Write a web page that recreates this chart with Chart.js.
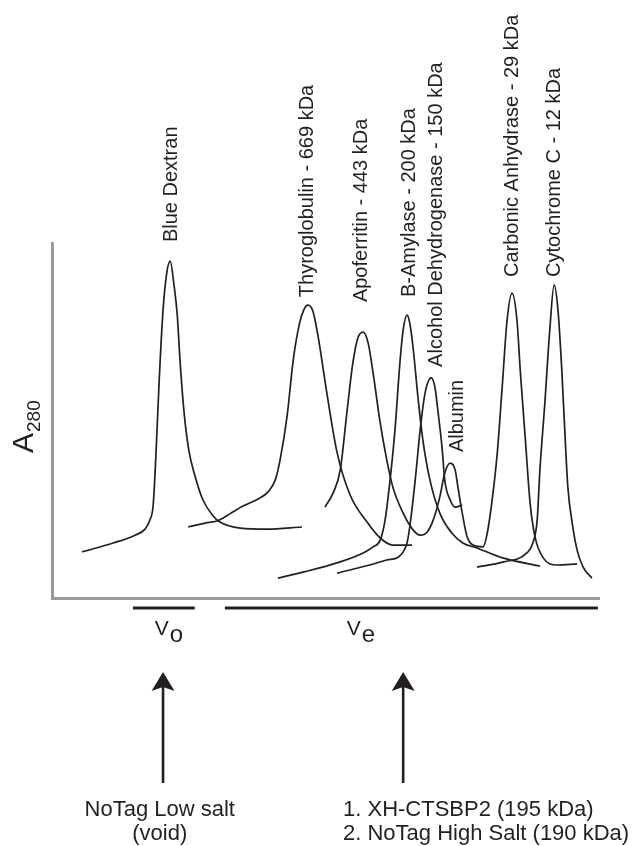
<!DOCTYPE html>
<html><head><meta charset="utf-8">
<script src="https://cdn.jsdelivr.net/npm/chart.js@4/dist/chart.umd.min.js"></script>
<style>html,body{margin:0;padding:0;background:#fff}#wrap{position:relative;width:634px;height:846px}</style>
</head><body><div id="wrap"><canvas id="c"></canvas></div>
<script>
// Elution traces: [elution position (0-100), A280 (0-100)]
const blueDextran = [[5.5,13.0],[11.2,15.5],[15.2,17.7],[17.0,19.4],[17.9,22.0],[18.5,26.2],[19.0,40.3],[19.6,61.4],[20.3,81.1],[21.0,91.8],[21.6,94.9],[22.3,88.2],[22.9,79.7],[23.4,67.0],[24.1,53.0],[25.0,41.7],[26.1,34.6],[27.6,27.6],[29.3,23.4],[30.7,21.4],[34.4,19.7],[39.3,19.4],[45.7,20.0]];
const thyroglobulin = [[24.9,20.0],[28.0,21.1],[30.2,21.7],[32.5,23.7],[34.9,25.9],[37.7,27.9],[39.5,29.9],[40.8,33.2],[41.7,38.9],[43.0,51.5],[44.1,67.0],[45.3,77.7],[46.1,81.4],[46.8,82.5],[47.7,80.8],[48.6,74.1],[50.3,57.2],[52.1,41.1],[54.5,29.0],[57.6,21.4],[60.0,16.9],[62.3,14.9],[65.8,14.9]];
const apoferritinAlbuminCA = [[49.9,25.6],[51.4,29.6],[52.7,36.1],[53.9,52.1],[55.0,66.2],[55.9,73.2],[56.9,74.9],[57.8,71.8],[58.7,63.4],[60.0,49.3],[61.2,38.9],[62.3,31.3],[64.2,23.9],[66.0,19.2],[67.3,17.7],[68.6,18.6],[69.7,22.0],[70.9,28.5],[71.8,35.2],[72.8,38.0],[73.7,36.1],[74.2,31.3],[75.0,23.9],[75.9,17.2],[77.0,14.9],[78.8,14.4],[79.5,17.7],[80.4,26.8],[81.4,40.8],[82.3,59.4],[83.2,78.3],[84.1,85.9],[85.0,78.3],[85.6,64.2],[86.5,45.4],[87.4,26.8],[88.3,17.2],[89.8,11.3],[92.3,9.3],[96.0,9.6]];
const betaAmylase = [[41.3,5.6],[45.9,7.3],[52.1,9.9],[56.9,12.7],[58.7,14.4],[60.0,16.3],[60.9,22.0],[61.8,33.2],[62.7,47.3],[63.6,66.2],[64.2,75.5],[64.9,79.7],[65.4,77.5],[66.0,70.7],[66.9,56.6],[67.8,44.5],[69.1,33.2],[70.9,23.9],[73.1,18.3],[75.1,15.5],[77.7,14.1],[82.4,11.3],[89.2,9.0]];
const alcoholDehydrogenase = [[52.1,7.0],[58.1,9.3],[61.2,10.7],[63.3,11.5],[64.2,13.0],[64.9,15.5],[65.4,20.0],[66.4,33.2],[67.3,47.3],[68.2,57.7],[69.3,62.0],[70.0,59.4],[70.6,52.1],[71.3,42.5],[71.8,33.2],[72.8,27.6],[73.7,25.6],[75.0,26.2]];
const cytochromeC = [[77.7,8.7],[82.4,10.1],[86.8,12.7],[87.9,15.5],[88.7,22.0],[89.2,36.1],[90.1,54.9],[91.0,75.5],[91.8,88.2],[92.5,81.1],[93.2,64.2],[93.8,45.4],[94.3,31.3],[95.1,21.1],[96.0,13.5],[97.1,8.7],[98.7,5.6]];

const traceNames = ['Blue Dextran','Thyroglobulin','Apoferritin / Albumin / Carbonic Anhydrase','B-Amylase','Alcohol Dehydrogenase','Cytochrome C'];
const traces = [blueDextran, thyroglobulin, apoferritinAlbuminCA, betaAmylase, alcoholDehydrogenase, cytochromeC];

// peak labels and the [trace, point] they belong to
const peakLabels = ['Blue Dextran','Thyroglobulin - 669 kDa','Apoferritin - 443 kDa','B-Amylase - 200 kDa','Alcohol Dehydrogenase - 150 kDa','Albumin','Carbonic Anhydrase - 29 kDa','Cytochrome C - 12 kDa'];
const peakAnchors = [[0,10],[1,13],[2,6],[3,11],[4,10],[2,19],[2,31],[5,8]];

// volume ranges on the elution axis
const voidRange = [14.8, 26.1];
const elutionRange = [31.6, 99.8];
const arrowPositions = [20.3, 64.2];
const yTitle = ['A', '280'];
const rangeLabels = [['V','o'],['V','e']];
const voidNote = ['NoTag Low salt', '(void)'];
const elutionNote = ['1. XH-CTSBP2 (195 kDa)', '2. NoTag High Salt (190 kDa)'];

const INK = '#231f20';
const AXIS = '#9a9a9a';
const FONT = '"Liberation Sans", Arial, sans-serif';

const labelOffsets = [[7,-19],[5,-8],[4,-30],[8,-18],[11,-11],[13,-11],[6,-16],[6,-8]];

const annot = {
  id: 'annot',
  afterDraw(chart) {
    const {ctx, chartArea: ca, scales: {x}} = chart;
    ctx.save();
    ctx.fillStyle = INK; ctx.strokeStyle = INK;
    ctx.textBaseline = 'alphabetic';
    // peak labels (rotated)
    ctx.font = '20px ' + FONT; ctx.textAlign = 'left';
    peakLabels.forEach((t, i) => {
      const [d, p] = peakAnchors[i];
      const pt = chart.getDatasetMeta(d).data[p];
      const [dx, dy] = labelOffsets[i];
      ctx.save(); ctx.translate(pt.x + dx, pt.y + dy); ctx.rotate(-Math.PI / 2);
      ctx.fillText(t, 0, 0); ctx.restore();
    });
    // y title A280
    ctx.save(); ctx.translate(ca.left - 19, ca.top + 210); ctx.rotate(-Math.PI / 2);
    ctx.font = '30px ' + FONT; ctx.fillText(yTitle[0], 0, 0);
    const w = ctx.measureText(yTitle[0]).width;
    ctx.font = '19px ' + FONT; ctx.fillText(yTitle[1], w + 1, 7);
    ctx.restore();
    // range bars
    ctx.lineWidth = 3; ctx.lineCap = 'butt';
    [voidRange, elutionRange].forEach(r => {
      ctx.beginPath();
      ctx.moveTo(x.getPixelForValue(r[0]), ca.bottom + 10);
      ctx.lineTo(x.getPixelForValue(r[1]), ca.bottom + 10);
      ctx.stroke();
    });
    // V labels
    const vx = [x.getPixelForValue(18.8), x.getPixelForValue(53.9)];
    rangeLabels.forEach((lab, i) => {
      ctx.font = '21px ' + FONT; ctx.textAlign = 'left';
      ctx.fillText(lab[0], vx[i], ca.bottom + 37);
      const vw = ctx.measureText(lab[0]).width;
      ctx.font = '24px ' + FONT;
      ctx.fillText(lab[1], vx[i] + vw + 1, ca.bottom + 44);
    });
    // arrows
    arrowPositions.forEach(v => {
      const ax = x.getPixelForValue(v);
      ctx.lineWidth = 2.6;
      ctx.beginPath(); ctx.moveTo(ax, ca.bottom + 185); ctx.lineTo(ax, ca.bottom + 88); ctx.stroke();
      ctx.beginPath();
      ctx.moveTo(ax, ca.bottom + 74);
      ctx.lineTo(ax + 11.5, ca.bottom + 93);
      ctx.lineTo(ax, ca.bottom + 89);
      ctx.lineTo(ax - 11.5, ca.bottom + 93);
      ctx.closePath(); ctx.fill();
    });
    // notes
    ctx.font = '22px ' + FONT;
    ctx.textAlign = 'center';
    const lx = x.getPixelForValue(19.7);
    ctx.fillText(voidNote[0], lx, ca.bottom + 218);
    ctx.fillText(voidNote[1], lx, ca.bottom + 242);
    ctx.textAlign = 'left';
    const rx = x.getPixelForValue(53.2);
    ctx.fillText(elutionNote[0], rx, ca.bottom + 218);
    ctx.fillText(elutionNote[1], rx, ca.bottom + 242);
    ctx.restore();
  }
};

new Chart(document.getElementById('c'), {
  type: 'line',
  data: {
    datasets: traces.map((t, i) => ({
      label: traceNames[i],
      data: t.map(([xv, yv]) => ({x: xv, y: yv})),
      borderColor: INK,
      borderWidth: 1.7,
      pointRadius: 0,
      fill: false,
      cubicInterpolationMode: 'monotone'
    }))
  },
  options: {
    responsive: true,
    maintainAspectRatio: false,
    animation: false,
    layout: {padding: {left: 52, top: 243, right: 35, bottom: 248}},
    plugins: {legend: {display: false}, tooltip: {enabled: false}},
    scales: {
      x: {type: 'linear', min: 0, max: 100,
          ticks: {display: false}, grid: {display: false, drawTicks: false},
          border: {display: true, color: AXIS, width: 3}},
      y: {type: 'linear', min: 0, max: 100,
          ticks: {display: false}, grid: {display: false, drawTicks: false},
          border: {display: true, color: AXIS, width: 3}}
    }
  },
  plugins: [annot]
});
</script>
</body></html>
